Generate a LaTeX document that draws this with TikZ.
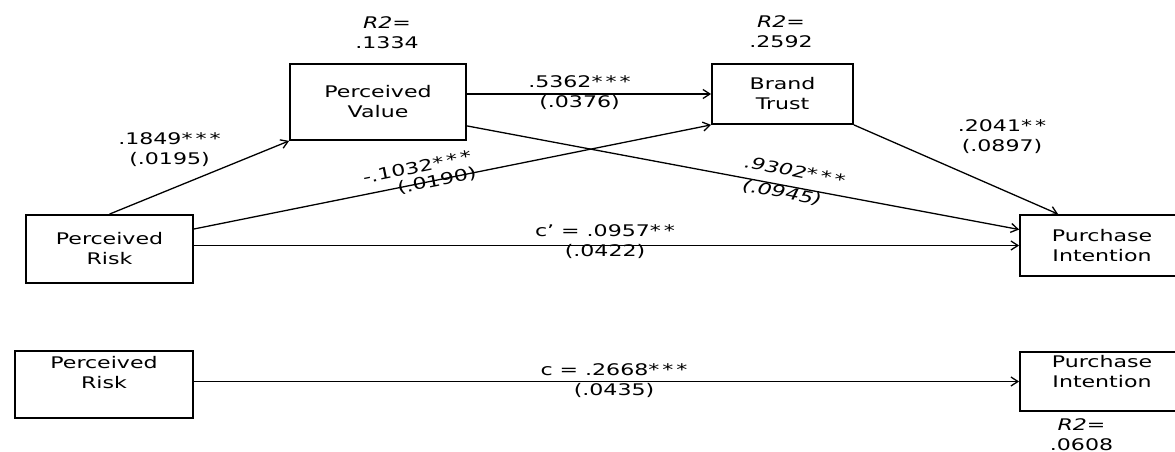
\documentclass[tikz,border=0pt]{standalone}
\usepackage{fontspec}
\setmainfont{DejaVu Sans}[FakeStretch=1.38]
\usetikzlibrary{arrows.meta}
\newcommand\lblsize{\fontsize{16}{20}\selectfont}
\newcommand\twostar{*\kern3pt*}
\newcommand\threestar{*\kern3pt*\kern3pt*}

\begin{document}
\begin{tikzpicture}[x=1pt, y=-1pt, font=\lblsize,
  var/.style={draw, line width=1.8pt, align=center, inner sep=0pt},
  est/.style={align=center, inner sep=0pt},
  link/.style={line width=1.3pt, -{Straight Barb[length=7pt, width=9pt]}}]
\useasboundingbox (0,0) rectangle (1175,452);
\clip (0,0) rectangle (1175,452);

\node[var, minimum width=176pt, minimum height=76pt] (pv) at (378,102) {Perceived\\Value};
\node[var, minimum width=141pt, minimum height=60pt] (bt) at (782.5,94) {Brand\\Trust};
\node[var, minimum width=167pt, minimum height=68pt] (pr) at (109.5,249) {Perceived\\Risk};
\node[var, minimum width=164pt, minimum height=61pt] (pi) at (1102,245.5) {Purchase\\Intention};
\node[var, minimum width=178pt, minimum height=67pt] (prtot) at (104,384.5) {Perceived\\Risk\\[4pt]\mbox{}};
\node[var, minimum width=164pt, minimum height=59pt] (pitot) at (1102,381.5) {Purchase\\Intention\\\mbox{}};

\draw[link] (pr.north) -- (pv.south west);
\draw[link] ([yshift=20pt]pr.east) -- (bt.south west);
\draw[link] (pv.east |- bt.west) -- (bt.west);
\draw[link] ([yshift=15pt]pv.south east) -- ([yshift=16pt]pi.west);
\draw[link] (bt.south east) -- ([xshift=39pt]pi.north west);
\draw[link] (pr.east |- pi.west) -- (pi.west);
\draw[link] (prtot.east |- pitot.west) -- (pitot.west);

\node[est] (rpv) at (387,33) {\textit{R2=}\\.1334};
\node[est] (rbt) at (781,32) {\textit{R2=}\\.2592};
\node[est] (rpi) at (1081.5,435) {\textit{R2=}\\.0608};

\node[est] (a1) at (169.5,150) {.1849\threestar\\(.0195)};
\node[est] (a2) at (579.5,92.5) {.5362\threestar\\(.0376)};
\node[est] (a3) at (1002,137) {.2041\twostar\\(.0897)};
\node[est, rotate=11.5] (b1) at (417,167) {-.1032\threestar};
\node[est, rotate=11.5] (b2) at (437,181) {(.0190)};
\node[est, rotate=-10.7, font=\lblsize\itshape] (d1) at (795,171) {.9302\threestar};
\node[est, rotate=-10.7, font=\lblsize\itshape] (d2) at (782,193) {(.0945)};
\node[est] (c1) at (605,242) {c' = .0957\twostar\\(.0422)};
\node[est] (c0) at (614,380.5) {c = .2668\threestar\\(.0435)};
\end{tikzpicture}
\end{document}
